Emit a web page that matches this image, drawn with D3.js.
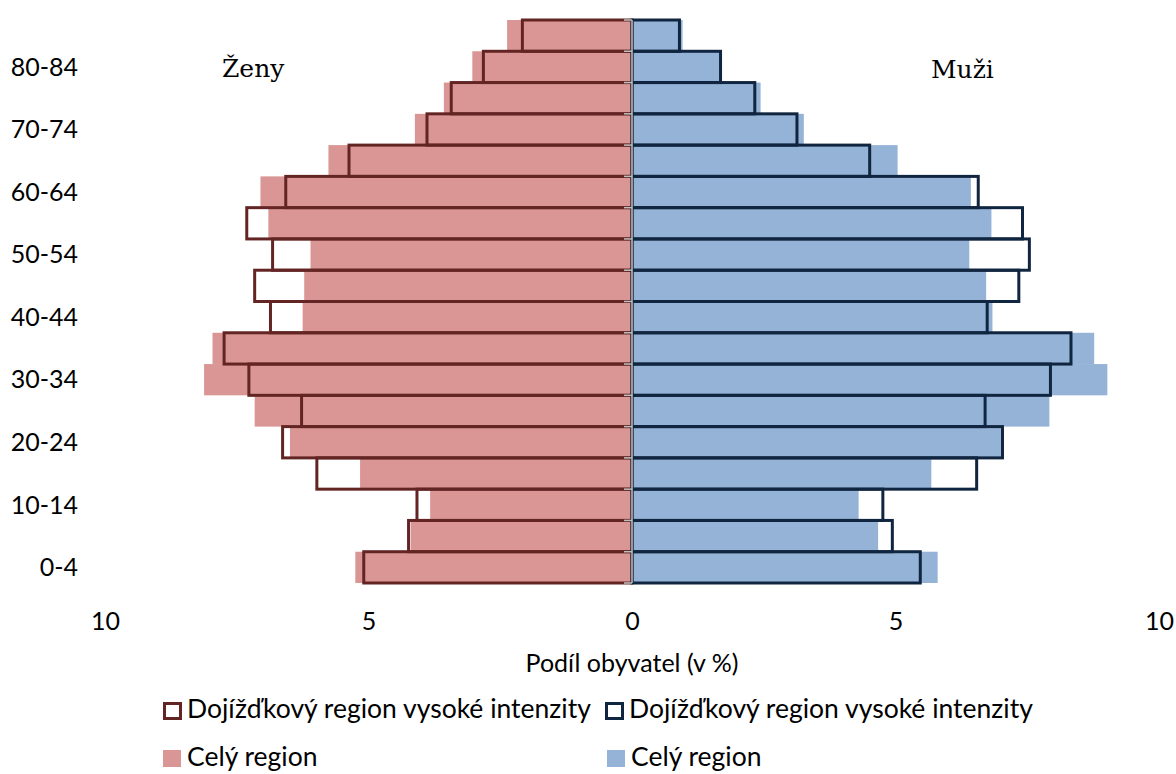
<!DOCTYPE html>
<html>
<head>
<meta charset="utf-8">
<script src="https://cdn.jsdelivr.net/npm/d3@7"></script>
<style>
html,body{margin:0;padding:0;background:#fff;}
svg{display:block;}
</style>
</head>
<body>
<svg id="chart" width="1176" height="774"></svg>
<script>
// ---- data ----
const ages = ["0-4","5-9","10-14","15-19","20-24","25-29","30-34","35-39","40-44","45-49","50-54","55-59","60-64","65-69","70-74","75-79","80-84","85+"];
const ageLabels = ["0-4","10-14","20-24","30-34","40-44","50-54","60-64","70-74","80-84"];
const womenAll  = [5.25,4.20,3.83,5.16,6.49,7.16,8.12,7.96,6.25,6.22,6.10,6.90,7.05,5.76,4.12,3.57,3.03,2.37];
const womenHigh = [5.09,4.24,4.08,5.98,6.63,6.27,7.27,7.74,6.86,7.16,6.82,7.31,6.57,5.37,3.89,3.43,2.82,2.08];
const menAll    = [5.80,4.67,4.30,5.68,7.00,7.92,9.02,8.77,6.84,6.72,6.40,6.82,6.43,5.04,3.26,2.44,1.66,0.96];
const menHigh   = [5.47,4.94,4.76,6.54,7.03,6.70,7.94,8.33,6.74,7.34,7.54,7.41,6.57,4.51,3.13,2.33,1.68,0.90];
const xTicks = [-10,-5,0,5,10];
const seriesNames = ["Dojížďkový region vysoké intenzity","Dojížďkový region vysoké intenzity","Celý region","Celý region"];
const sideTitles = ["Ženy","Muži"];
const axisTitle = "Podíl obyvatel (v %)";

// ---- styles ----
const C = {pink:"#D99694", blue:"#95B3D7", red:"#632523", navy:"#10253F", axis:"#BFBFBF"};
const sans = "Lato, 'Open Sans', sans-serif";

const svg = d3.select("#chart");
const x = d3.scaleLinear().domain([-10,10]).range([105,1159]);
const y = d3.scaleBand().domain(ages.slice().reverse()).range([20,583]).padding(0);
const x0 = x(0);

const rows = ages.map((a,i)=>({age:a, wA:womenAll[i], wH:womenHigh[i], mA:menAll[i], mH:menHigh[i]}));

// fill bars
svg.append("g").selectAll("rect").data(rows).join("rect")
  .attr("x", d=>x(-d.wA)).attr("y", d=>y(d.age))
  .attr("width", d=>x0 - x(-d.wA)).attr("height", y.bandwidth())
  .attr("fill", C.pink);
svg.append("g").selectAll("rect").data(rows).join("rect")
  .attr("x", x0).attr("y", d=>y(d.age))
  .attr("width", d=>x(d.mA) - x0).attr("height", y.bandwidth())
  .attr("fill", C.blue);

// outline bars
svg.append("g").selectAll("rect").data(rows).join("rect")
  .attr("x", d=>x(-d.wH)).attr("y", d=>y(d.age))
  .attr("width", d=>x0 - x(-d.wH)).attr("height", y.bandwidth())
  .attr("fill", "none").attr("stroke", C.red).attr("stroke-width", 3);
svg.append("g").selectAll("rect").data(rows).join("rect")
  .attr("x", x0).attr("y", d=>y(d.age))
  .attr("width", d=>x(d.mH) - x0).attr("height", y.bandwidth())
  .attr("fill", "none").attr("stroke", C.navy).attr("stroke-width", 3);

// central category axis line with ticks at band boundaries
const bounds = y.domain().map(a=>y(a)).concat([y.range()[1]]);
const ax = svg.append("g");
ax.append("line").attr("x1", x0).attr("x2", x0).attr("y1", y.range()[0]).attr("y2", y.range()[1])
  .attr("stroke", C.axis).attr("stroke-width", 1.5);
ax.selectAll("line.t").data(bounds).join("line").attr("class","t")
  .attr("x1", x0-8).attr("x2", x0).attr("y1", d=>d).attr("y2", d=>d)
  .attr("stroke", C.axis).attr("stroke-width", 1.5);

// y labels
const yAxis = d3.axisLeft(y).tickValues(ageLabels).tickSize(0).tickPadding(0);
const gy = svg.append("g").attr("transform","translate(78,0)").call(yAxis);
gy.select(".domain").remove();
gy.selectAll("text").attr("font-family", sans).attr("font-size", 25).attr("fill","#000").attr("dy","0.35em");

// x labels
const xAxis = d3.axisBottom(x).tickValues(xTicks).tickSize(0).tickPadding(0).tickFormat(d=>Math.abs(d));
const gx = svg.append("g").attr("transform","translate(0,612)").call(xAxis);
gx.select(".domain").remove();
gx.selectAll("text").attr("font-family", sans).attr("font-size", 25).attr("fill","#000").attr("dy","0.71em");

// axis title
svg.append("text").attr("x", x0).attr("y", 672).attr("text-anchor","middle")
  .attr("font-family", sans).attr("font-size", 25).attr("fill","#000").text(axisTitle);

// side titles
svg.append("text").attr("x", 222).attr("y", 77).attr("font-family","'DejaVu Serif', serif")
  .attr("font-size", 25).attr("fill","#000").text(sideTitles[0]);
svg.append("text").attr("x", 931).attr("y", 78).attr("font-family","'DejaVu Serif', serif")
  .attr("font-size", 25).attr("fill","#000").text(sideTitles[1]);

// legend
const legendItems = [
  {name:seriesNames[0], type:"outline", color:C.red, lx:163, ly:702},
  {name:seriesNames[1], type:"outline", color:C.navy, lx:605, ly:702},
  {name:seriesNames[2], type:"fill", color:C.pink, lx:163, ly:750},
  {name:seriesNames[3], type:"fill", color:C.blue, lx:607, ly:750}
];
const lg = svg.append("g").selectAll("g").data(legendItems).join("g")
  .attr("transform", d=>`translate(${d.lx},${d.ly})`);
lg.append("rect")
  .attr("x", d=>d.type==="outline"?1.5:0).attr("y", d=>d.type==="outline"?1.5:0)
  .attr("width", d=>d.type==="outline"?16:18).attr("height", d=>d.type==="outline"?15:17)
  .attr("fill", d=>d.type==="outline"?"#fff":d.color)
  .attr("stroke", d=>d.type==="outline"?d.color:"none").attr("stroke-width", 3);
lg.append("text").attr("x", 24).attr("y", 16)
  .attr("font-family", sans).attr("font-size", 26.5).attr("fill","#000").text(d=>d.name);
</script>
</body>
</html>
